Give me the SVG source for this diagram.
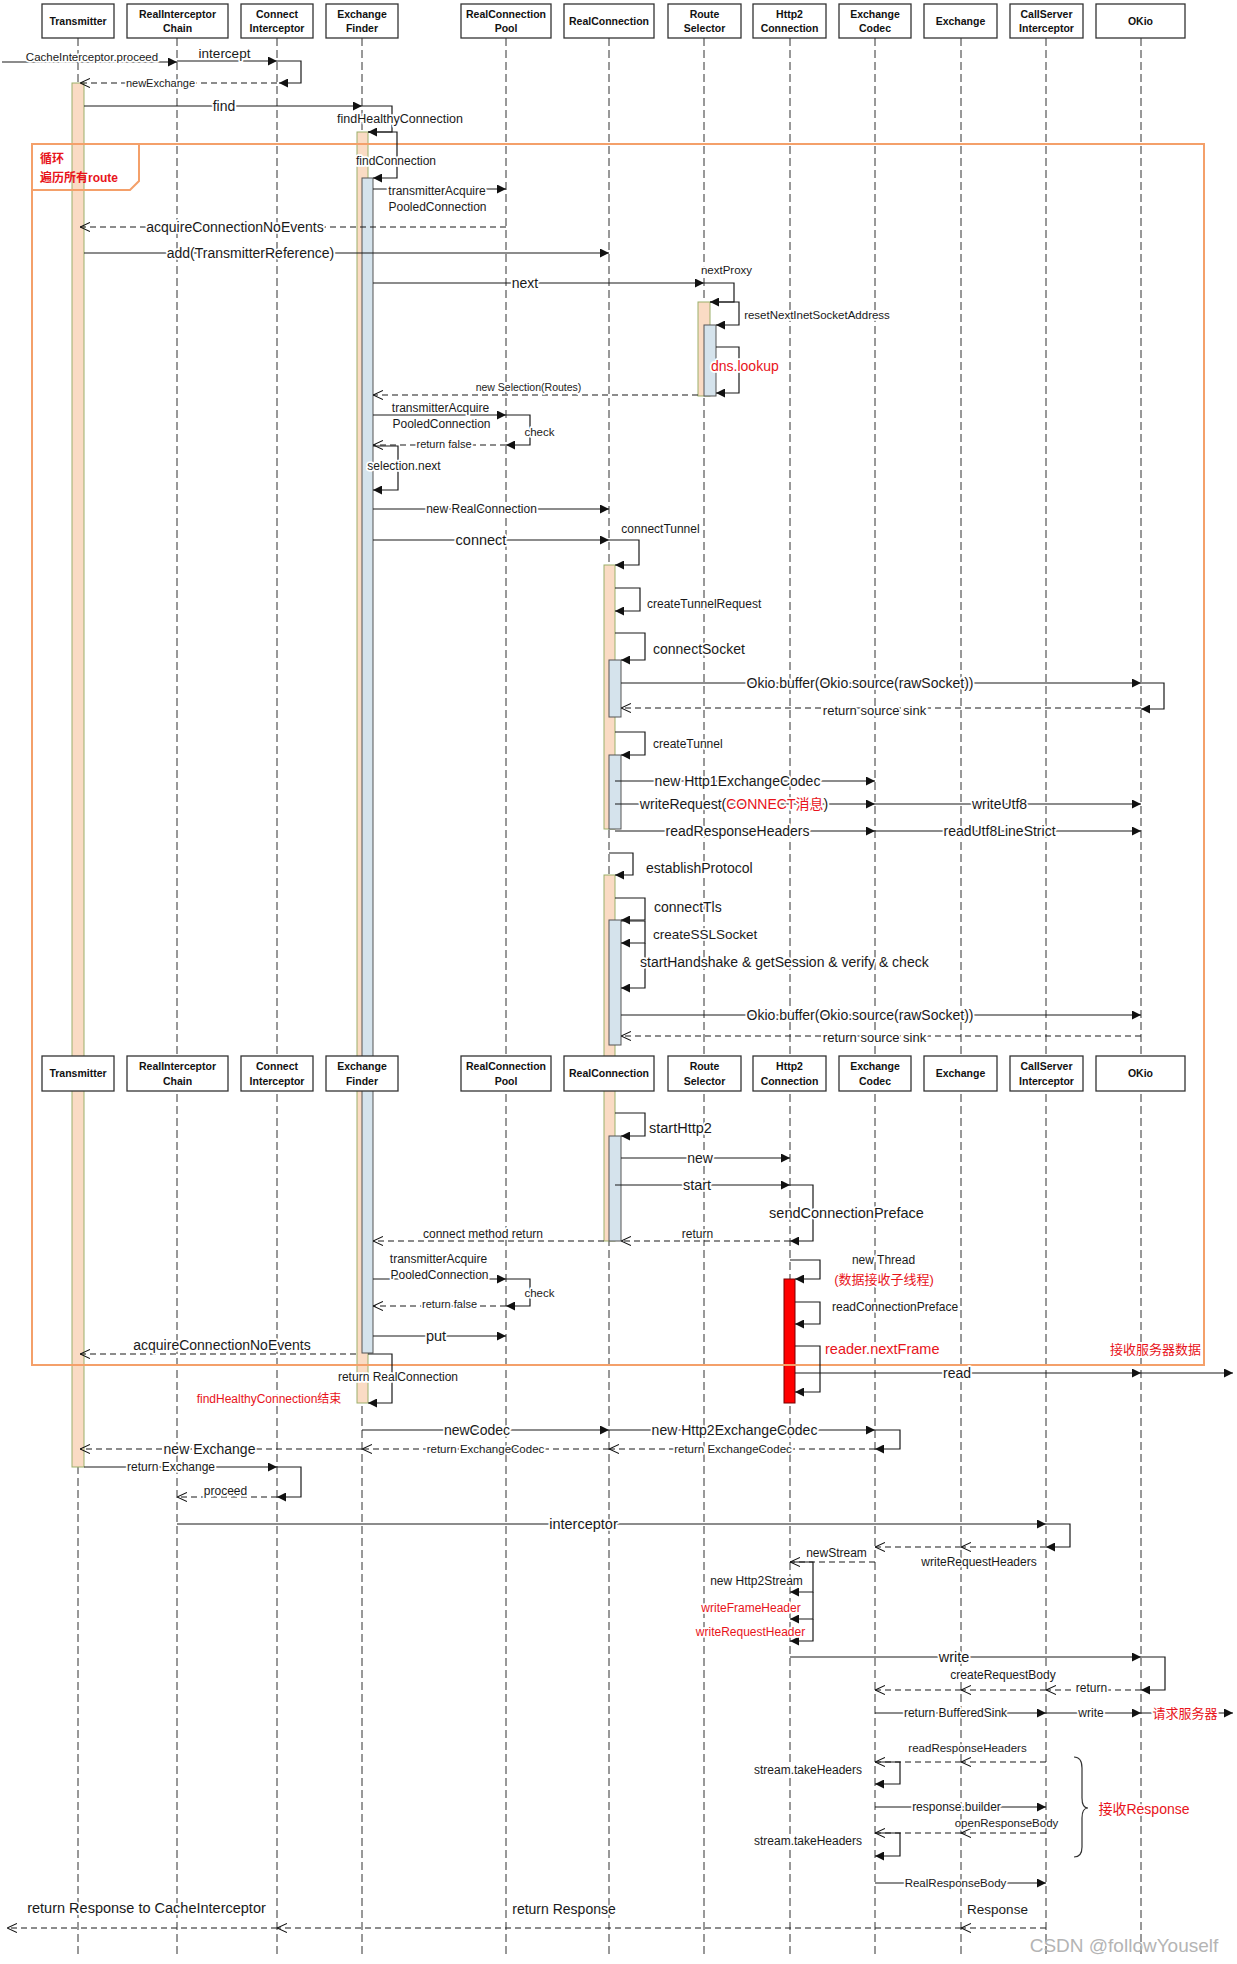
<svg xmlns="http://www.w3.org/2000/svg" width="1237" height="1964" viewBox="0 0 1237 1964">
<defs>
<marker id="f" viewBox="0 0 10 10" refX="10" refY="5" markerWidth="9" markerHeight="9" markerUnits="userSpaceOnUse" orient="auto"><path d="M0,0L10,5L0,10z" fill="#111"/></marker>
<marker id="o" viewBox="0 0 10 10" refX="10" refY="5" markerWidth="10" markerHeight="10" markerUnits="userSpaceOnUse" orient="auto"><path d="M0,0.5L10,5L0,9.5" fill="none" stroke="#111" stroke-width="1.1"/></marker>
<style>
.ll{stroke:#333;stroke-width:1;stroke-dasharray:8 4;fill:none}
.m{stroke:#1a1a1a;stroke-width:1.2;fill:none;marker-end:url(#f)}
.r{stroke:#1a1a1a;stroke-width:1.2;fill:none;stroke-dasharray:6 4;marker-end:url(#o)}
.t{font-family:"Liberation Sans","Noto Sans CJK SC",sans-serif;fill:#1a1a1a;stroke:#fff;stroke-width:3.5;stroke-linejoin:round;paint-order:stroke}
.c{text-anchor:middle}
.red{fill:#e8141b}
.box{fill:#fff;stroke:#333;stroke-width:1.3}
.hd{font-family:"Liberation Sans",sans-serif;font-weight:bold;font-size:10.5px;text-anchor:middle;fill:#111}
.pe{fill:#fadbc4;stroke:#9caf6a;stroke-width:1}
.bl{fill:#d5e3ec;stroke:#555;stroke-width:1}
</style>
</defs>
<rect width="1237" height="1964" fill="#fff"/>

<g id="lifelines">
<path class="ll" d="M78,38V1956M177,38V1956M277,38V1956M362,38V1956M506,38V1956M609,38V1956M704,38V1956M790,38V1956M875,38V1956M961,38V1956M1046,38V1956M1141,38V1956"/>
</g>

<g id="activations">
<rect class="pe" x="72" y="83" width="12" height="1384"/>
<rect class="pe" x="357" y="132" width="11" height="1271"/>
<rect class="bl" x="362" y="178" width="11" height="1175"/>
<rect class="pe" x="698" y="302" width="12" height="94"/>
<rect class="bl" x="704" y="325" width="12" height="71"/>
<rect class="pe" x="604" y="565" width="11" height="264"/>
<rect class="bl" x="609" y="660" width="12" height="57"/>
<rect class="bl" x="609" y="755" width="12" height="74"/>
<rect class="pe" x="604" y="875" width="11" height="366"/>
<rect class="bl" x="609" y="920" width="12" height="125"/>
<rect class="bl" x="609" y="1136" width="12" height="105"/>
<rect x="784" y="1279" width="11" height="124" fill="#ff0000" stroke="#700" stroke-width="1"/>
</g>

<g id="loop-frame">
<rect x="32" y="144" width="1172" height="1221" fill="none" stroke="#f4a06a" stroke-width="2"/>
<path d="M32,144H139V181L130,190H32" fill="none" stroke="#f4a06a" stroke-width="2"/>
<text x="40" y="163" font-family="Liberation Sans,Noto Sans CJK SC,sans-serif" font-weight="bold" font-size="12" fill="#e8141b">循环</text>
<text x="40" y="182" font-family="Liberation Sans,Noto Sans CJK SC,sans-serif" font-weight="bold" font-size="12" fill="#e8141b">遍历所有route</text>
</g>

<g id="connectors">
<path class="m" d="M2,62H177"/>
<path class="m" d="M177,61H277"/>
<path class="m" d="M277,61H301V83H279"/>
<path class="r" d="M277,83H80"/>
<path class="m" d="M84,106H362"/>
<path class="m" d="M362,106H392V132H368"/>
<path class="m" d="M368,132H397V178H373"/>
<path class="m" d="M373,189H506"/>
<path class="r" d="M506,227H80"/>
<path class="m" d="M84,253H609"/>
<path class="m" d="M373,283H704"/>
<path class="m" d="M704,283H734V302H710"/>
<path class="m" d="M710,302H739V325H716"/>
<path class="m" d="M716,347H739V393H716"/>
<path class="r" d="M698,395H373"/>
<path class="m" d="M373,415H506"/>
<path class="m" d="M506,415H530V445H506"/>
<path class="r" d="M506,445H373"/>
<path class="m" d="M373,446H398V490H373"/>
<path class="m" d="M373,509H609"/>
<path class="m" d="M373,540H609"/>
<path class="m" d="M609,540H639V565H615"/>
<path class="m" d="M615,588H640V611H615"/>
<path class="m" d="M615,633H645V660H621"/>
<path class="m" d="M621,683H1141"/>
<path class="m" d="M1141,683H1164V709H1141"/>
<path class="r" d="M1141,708H621"/>
<path class="m" d="M615,732H645V755H621"/>
<path class="m" d="M615,781H875"/>
<path class="m" d="M615,804H875"/>
<path class="m" d="M875,804H1141"/>
<path class="m" d="M615,831H875"/>
<path class="m" d="M875,831H1141"/>
<path class="m" d="M609,853H633V875H615"/>
<path class="m" d="M615,898H645V920H621"/>
<path class="m" d="M621,921H645V943H621"/>
<path class="m" d="M645,943V988H621"/>
<path class="m" d="M621,1015H1141"/>
<path class="r" d="M1141,1036H621"/>

<path class="m" d="M615,1113H645V1136H621"/>
<path class="m" d="M621,1158H790"/>
<path class="m" d="M615,1185H790"/>
<path class="m" d="M790,1185H813V1241H790"/>
<path class="r" d="M790,1241H621"/>
<path class="r" d="M604,1241H373"/>
<path class="m" d="M790,1260H820V1279H795"/>
<path class="m" d="M795,1302H820V1324H795"/>
<path class="m" d="M795,1346H820V1392H795"/>
<path class="m" d="M795,1373H1141"/>
<path class="m" d="M1141,1373H1233"/>
<path class="m" d="M373,1279H506"/>
<path class="m" d="M506,1279H530V1306H506"/>
<path class="r" d="M506,1306H373"/>
<path class="m" d="M373,1336H506"/>
<path class="r" d="M356,1354H80"/>
<path class="m" d="M368,1354H392V1403H368"/>
<path class="m" d="M362,1430H609"/>
<path class="m" d="M609,1430H875"/>
<path class="m" d="M875,1430H900V1449H875"/>
<path class="r" d="M875,1449H609"/>
<path class="r" d="M609,1449H362"/>
<path class="r" d="M362,1449H80"/>
<path class="m" d="M84,1467H277"/>
<path class="m" d="M277,1467H301V1497H277"/>
<path class="r" d="M277,1497H177"/>
<path class="m" d="M177,1524H1046"/>
<path class="m" d="M1046,1524H1070V1547H1046"/>
<path class="r" d="M1046,1547H961"/>
<path class="r" d="M961,1547H875"/>
<path class="r" d="M875,1562H790"/>
<path class="m" d="M790,1562H813V1592H790"/>
<path class="m" d="M813,1592V1619H790"/>
<path class="m" d="M813,1619V1641H790"/>
<path class="m" d="M790,1657H1141"/>
<path class="m" d="M1141,1657H1165V1690H1141"/>
<path class="r" d="M1141,1690H1046"/>
<path class="r" d="M1046,1690H961"/>
<path class="r" d="M961,1690H875"/>
<path class="m" d="M875,1713H1046"/>
<path class="m" d="M1046,1713H1141"/>
<path class="m" d="M1141,1713H1233"/>
<path class="r" d="M1046,1762H961"/>
<path class="r" d="M961,1762H875"/>
<path class="m" d="M875,1762H900V1784H875"/>
<path class="m" d="M875,1807H1046"/>
<path class="r" d="M1046,1833H961"/>
<path class="r" d="M961,1833H875"/>
<path class="m" d="M875,1833H900V1856H875"/>
<path class="m" d="M875,1883H1046"/>
<path class="r" d="M1046,1928H961"/>
<path class="r" d="M961,1928H277"/>
<path class="r" d="M277,1928H7"/>
<path d="M1074,1757Q1082,1757 1082,1768V1798Q1082,1808 1088,1808Q1082,1808 1082,1818V1847Q1082,1857 1074,1857" fill="none" stroke="#333" stroke-width="1.2"/>

<g class="t">
<text class="c" x="92" y="61" font-size="11.5">CacheInterceptor.proceed</text>
<text class="c" x="224.5" y="58" font-size="13.5">intercept</text>
<text class="c" x="160.5" y="87" font-size="11">newExchange</text>
<text class="c" x="224" y="111" font-size="14">find</text>
<text class="c" x="400" y="123" font-size="12.5">findHealthyConnection</text>
<text class="c" x="396" y="165" font-size="12">findConnection</text>
<text class="c" x="437" y="195" font-size="12">transmitterAcquire</text>
<text class="c" x="437.5" y="211" font-size="12">PooledConnection</text>
<text class="c" x="235" y="232" font-size="14">acquireConnectionNoEvents</text>
<text class="c" x="250.5" y="258" font-size="14">add(TransmitterReference)</text>
<text class="c" x="525" y="288" font-size="14">next</text>
<text class="c" x="726.5" y="274" font-size="11.5">nextProxy</text>
<text class="c" x="817" y="319" font-size="11.5">resetNextInetSocketAddress</text>
<text class="red" x="711" y="371" font-size="14">dns.lookup</text>
<text class="c" x="528.5" y="391" font-size="10.5">new Selection(Routes)</text>
<text class="c" x="440.5" y="412" font-size="12">transmitterAcquire</text>
<text class="c" x="441.5" y="428" font-size="12">PooledConnection</text>
<text class="c" x="539.5" y="436" font-size="11.5">check</text>
<text class="c" x="444" y="448" font-size="11">return false</text>
<text class="c" x="404" y="470" font-size="12">selection.next</text>
<text class="c" x="481.5" y="513" font-size="12">new RealConnection</text>
<text class="c" x="481" y="545" font-size="14.5">connect</text>
<text class="c" x="660.5" y="533" font-size="12">connectTunnel</text>
<text x="647" y="608" font-size="12">createTunnelRequest</text>
<text x="653" y="654" font-size="14">connectSocket</text>
<text class="c" x="860" y="688" font-size="14">Okio.buffer(Okio.source(rawSocket))</text>
<text class="c" x="874.5" y="715" font-size="13">return source  sink</text>
<text x="653" y="748" font-size="12">createTunnel</text>
<text class="c" x="737.5" y="786" font-size="14">new Http1ExchangeCodec</text>
<text class="c" x="734" y="809" font-size="14">writeRequest(<tspan class="red">CONNECT消息</tspan>)</text>
<text class="c" x="999.5" y="809" font-size="14">writeUtf8</text>
<text class="c" x="737.5" y="836" font-size="14">readResponseHeaders</text>
<text class="c" x="999.5" y="836" font-size="14">readUtf8LineStrict</text>
<text x="646" y="873" font-size="14">establishProtocol</text>
<text x="654" y="912" font-size="14">connectTls</text>
<text x="653" y="939" font-size="13.5">createSSLSocket</text>
<text x="640" y="967" font-size="14">startHandshake &amp; getSession &amp; verify &amp; check</text>
<text class="c" x="860" y="1020" font-size="14">Okio.buffer(Okio.source(rawSocket))</text>
<text class="c" x="874.5" y="1042" font-size="13">return source  sink</text>

<text x="649" y="1133" font-size="14.5">startHttp2</text>
<text class="c" x="700" y="1163" font-size="14">new</text>
<text class="c" x="697" y="1190" font-size="14.5">start</text>
<text class="c" x="846.5" y="1218" font-size="14.5">sendConnectionPreface</text>
<text class="c" x="697.5" y="1238" font-size="12">return</text>
<text class="c" x="483" y="1238" font-size="12">connect method return</text>
<text class="c" x="883.5" y="1264" font-size="12">new Thread</text>
<text class="c red" x="884" y="1284" font-size="13">(数据接收子线程)</text>
<text x="832" y="1311" font-size="12">readConnectionPreface</text>
<text class="red" x="825" y="1354" font-size="14.5">reader.nextFrame</text>
<text class="c red" x="1155.5" y="1354" font-size="13">接收服务器数据</text>
<text class="c" x="957" y="1378" font-size="14">read</text>
<text class="c" x="438.5" y="1263" font-size="12">transmitterAcquire</text>
<text class="c" x="439.5" y="1279" font-size="12">PooledConnection</text>
<text class="c" x="539.5" y="1297" font-size="11.5">check</text>
<text class="c" x="449.5" y="1308" font-size="11">return false</text>
<text class="c" x="436" y="1341" font-size="14.5">put</text>
<text class="c" x="222" y="1350" font-size="14">acquireConnectionNoEvents</text>
<text class="c" x="398" y="1381" font-size="12">return RealConnection</text>
<text class="c red" x="269" y="1403" font-size="12">findHealthyConnection结束</text>
<text class="c" x="477" y="1435" font-size="14">newCodec</text>
<text class="c" x="734.5" y="1435" font-size="14">new Http2ExchangeCodec</text>
<text class="c" x="209.5" y="1454" font-size="14">new Exchange</text>
<text class="c" x="485.5" y="1453" font-size="11.5">return ExchangeCodec</text>
<text class="c" x="733" y="1453" font-size="11.5">return ExchangeCodec</text>
<text class="c" x="171" y="1471" font-size="12">return Exchange</text>
<text class="c" x="225.5" y="1495" font-size="12">proceed</text>
<text class="c" x="583.5" y="1529" font-size="14.5">interceptor</text>
<text class="c" x="979" y="1566" font-size="12">writeRequestHeaders</text>
<text class="c" x="836.5" y="1557" font-size="12">newStream</text>
<text class="c" x="756.5" y="1585" font-size="12">new Http2Stream</text>
<text class="c red" x="751" y="1612" font-size="12">writeFrameHeader</text>
<text class="c red" x="750.5" y="1636" font-size="12">writeRequestHeader</text>
<text class="c" x="954" y="1662" font-size="14.5">write</text>
<text class="c" x="1003" y="1679" font-size="12">createRequestBody</text>
<text class="c" x="1091.5" y="1692" font-size="12">return</text>
<text class="c" x="955.5" y="1717" font-size="12">return BufferedSink</text>
<text class="c" x="1091" y="1717" font-size="12">write</text>
<text class="c red" x="1185" y="1718" font-size="13">请求服务器</text>
<text class="c" x="967.5" y="1752" font-size="11.5">readResponseHeaders</text>
<text class="c" x="808" y="1774" font-size="12">stream.takeHeaders</text>
<text class="c" x="956.5" y="1811" font-size="12">response.builder</text>
<text class="c" x="1006.5" y="1827" font-size="11.5">openResponseBody</text>
<text class="c" x="808" y="1845" font-size="12">stream.takeHeaders</text>
<text class="c" x="955.5" y="1887" font-size="11.5">RealResponseBody</text>
<text class="c" x="997.5" y="1914" font-size="13.5">Response</text>
<text class="c" x="146.5" y="1913" font-size="14.5">return Response to CacheInterceptor</text>
<text class="c" x="564" y="1914" font-size="14">return Response</text>
<text class="c red" x="1144" y="1814" font-size="14">接收Response</text>
</g>
</g>

<g id="nodes-top">
<g id="n-transmitter"><rect class="box" x="42" y="4" width="72" height="34"/><text class="hd" x="78" y="25">Transmitter</text></g>
<g id="n-ric"><rect class="box" x="127" y="4" width="101" height="34"/><text class="hd" x="177.5" y="18">RealInterceptor</text><text class="hd" x="177.5" y="32">Chain</text></g>
<g id="n-ci"><rect class="box" x="241" y="4" width="72" height="34"/><text class="hd" x="277" y="18">Connect</text><text class="hd" x="277" y="32">Interceptor</text></g>
<g id="n-ef"><rect class="box" x="326" y="4" width="72" height="34"/><text class="hd" x="362" y="18">Exchange</text><text class="hd" x="362" y="32">Finder</text></g>
<g id="n-rcp"><rect class="box" x="461" y="4" width="90" height="34"/><text class="hd" x="506" y="18">RealConnection</text><text class="hd" x="506" y="32">Pool</text></g>
<g id="n-rc"><rect class="box" x="564" y="4" width="90" height="34"/><text class="hd" x="609" y="25">RealConnection</text></g>
<g id="n-rs"><rect class="box" x="668" y="4" width="73" height="34"/><text class="hd" x="704.5" y="18">Route</text><text class="hd" x="704.5" y="32">Selector</text></g>
<g id="n-h2"><rect class="box" x="753" y="4" width="73" height="34"/><text class="hd" x="789.5" y="18">Http2</text><text class="hd" x="789.5" y="32">Connection</text></g>
<g id="n-ec"><rect class="box" x="839" y="4" width="72" height="34"/><text class="hd" x="875" y="18">Exchange</text><text class="hd" x="875" y="32">Codec</text></g>
<g id="n-ex"><rect class="box" x="924" y="4" width="73" height="34"/><text class="hd" x="960.5" y="25">Exchange</text></g>
<g id="n-cs"><rect class="box" x="1010" y="4" width="73" height="34"/><text class="hd" x="1046.5" y="18">CallServer</text><text class="hd" x="1046.5" y="32">Interceptor</text></g>
<g id="n-okio"><rect class="box" x="1096" y="4" width="89" height="34"/><text class="hd" x="1140.5" y="25">OKio</text></g>
</g>

<g id="nodes-repeat">
<g id="n-transmitter-2"><rect class="box" x="42" y="1056" width="72" height="35"/><text class="hd" x="78" y="1077">Transmitter</text></g>
<g id="n-ric-2"><rect class="box" x="127" y="1056" width="101" height="35"/><text class="hd" x="177.5" y="1070">RealInterceptor</text><text class="hd" x="177.5" y="1085">Chain</text></g>
<g id="n-ci-2"><rect class="box" x="241" y="1056" width="72" height="35"/><text class="hd" x="277" y="1070">Connect</text><text class="hd" x="277" y="1085">Interceptor</text></g>
<g id="n-ef-2"><rect class="box" x="326" y="1056" width="72" height="35"/><text class="hd" x="362" y="1070">Exchange</text><text class="hd" x="362" y="1085">Finder</text></g>
<g id="n-rcp-2"><rect class="box" x="461" y="1056" width="90" height="35"/><text class="hd" x="506" y="1070">RealConnection</text><text class="hd" x="506" y="1085">Pool</text></g>
<g id="n-rc-2"><rect class="box" x="564" y="1056" width="90" height="35"/><text class="hd" x="609" y="1077">RealConnection</text></g>
<g id="n-rs-2"><rect class="box" x="668" y="1056" width="73" height="35"/><text class="hd" x="704.5" y="1070">Route</text><text class="hd" x="704.5" y="1085">Selector</text></g>
<g id="n-h2-2"><rect class="box" x="753" y="1056" width="73" height="35"/><text class="hd" x="789.5" y="1070">Http2</text><text class="hd" x="789.5" y="1085">Connection</text></g>
<g id="n-ec-2"><rect class="box" x="839" y="1056" width="72" height="35"/><text class="hd" x="875" y="1070">Exchange</text><text class="hd" x="875" y="1085">Codec</text></g>
<g id="n-ex-2"><rect class="box" x="924" y="1056" width="73" height="35"/><text class="hd" x="960.5" y="1077">Exchange</text></g>
<g id="n-cs-2"><rect class="box" x="1010" y="1056" width="73" height="35"/><text class="hd" x="1046.5" y="1070">CallServer</text><text class="hd" x="1046.5" y="1085">Interceptor</text></g>
<g id="n-okio-2"><rect class="box" x="1096" y="1056" width="89" height="35"/><text class="hd" x="1140.5" y="1077">OKio</text></g>
</g>

<text x="1124" y="1952" text-anchor="middle" font-family="Liberation Sans,sans-serif" font-size="19" fill="#b4b4b4">CSDN @followYouself</text>
</svg>
